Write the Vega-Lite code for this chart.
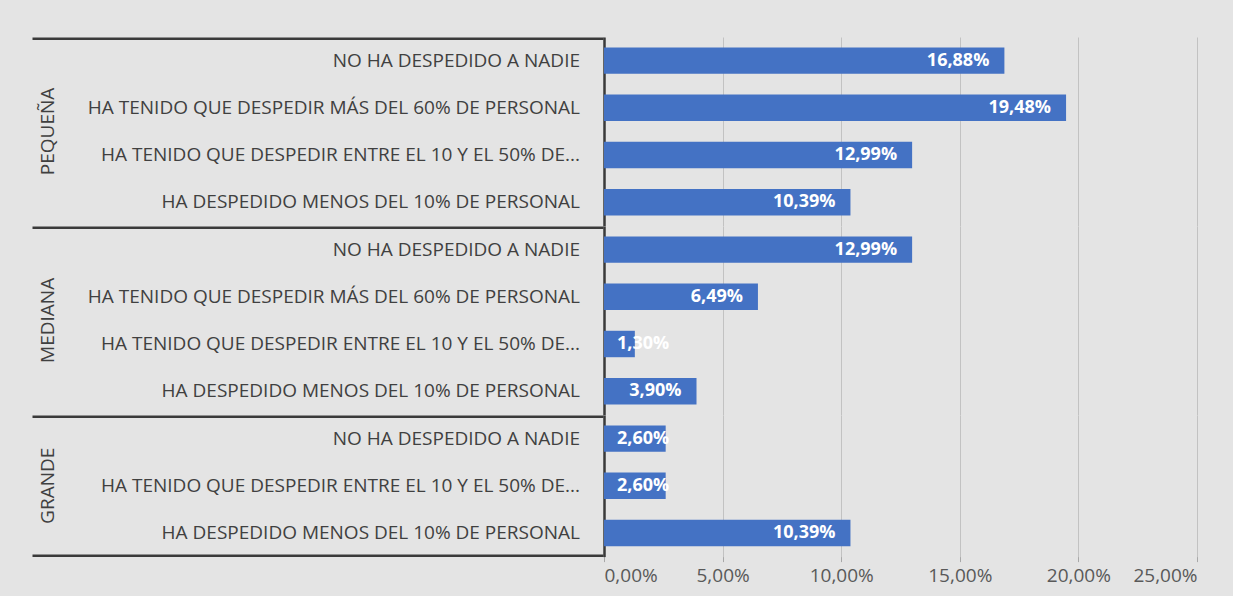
{
  "$schema": "https://vega.github.io/schema/vega-lite/v6.json",
  "background": "#e4e4e4",
  "padding": {"left": 10, "top": 37, "right": 35, "bottom": 10},
  "config": {
    "view": {"stroke": null},
    "font": "Open Sans",
    "locale": {"number": {"decimal": ",", "thousands": ".", "grouping": [3], "currency": ["", " €"]}},
    "concat": {"spacing": 0},
    "axisX": {"gridColor": "#c2c2c2", "gridWidth": 1, "tickColor": "#a8a8a8", "labelFontSize": 19, "labelColor": "#595959"}
  },
  "data": {
    "values": [
      {"grp": "PEQUEÑA", "item": "NO HA DESPEDIDO A NADIE", "v": 0.1688},
      {"grp": "PEQUEÑA", "item": "HA TENIDO QUE DESPEDIR MÁS DEL 60% DE PERSONAL", "v": 0.1948},
      {"grp": "PEQUEÑA", "item": "HA TENIDO QUE DESPEDIR ENTRE EL 10 Y EL 50% DE...", "v": 0.1299},
      {"grp": "PEQUEÑA", "item": "HA DESPEDIDO MENOS DEL 10% DE PERSONAL", "v": 0.1039},
      {"grp": "MEDIANA", "item": "NO HA DESPEDIDO A NADIE", "v": 0.1299},
      {"grp": "MEDIANA", "item": "HA TENIDO QUE DESPEDIR MÁS DEL 60% DE PERSONAL", "v": 0.0649},
      {"grp": "MEDIANA", "item": "HA TENIDO QUE DESPEDIR ENTRE EL 10 Y EL 50% DE...", "v": 0.013},
      {"grp": "MEDIANA", "item": "HA DESPEDIDO MENOS DEL 10% DE PERSONAL", "v": 0.039},
      {"grp": "GRANDE", "item": "NO HA DESPEDIDO A NADIE", "v": 0.026},
      {"grp": "GRANDE", "item": "HA TENIDO QUE DESPEDIR ENTRE EL 10 Y EL 50% DE...", "v": 0.026},
      {"grp": "GRANDE", "item": "HA DESPEDIDO MENOS DEL 10% DE PERSONAL", "v": 0.1039}
    ]
  },
  "spacing": 0,
  "hconcat": [
    {
      "spacing": 0,
      "vconcat": [
        {
          "width": 593, "height": {"step": 47.2},
          "transform": [{"filter": "datum.grp === 'PEQUEÑA'"}],
          "layer": [
            {
              "mark": {"type": "text", "align": "right", "baseline": "middle", "dx": -23, "fontSize": 19, "color": "#404040"},
              "encoding": {
                "y": {"field": "item", "type": "nominal", "sort": null, "axis": null, "scale": {"type": "band", "paddingInner": 0.44, "paddingOuter": 0.22}},
                "x": {"datum": 1, "type": "quantitative", "scale": {"domain": [0, 1], "range": [22, 593], "nice": false}, "axis": {"orient": "top", "offset": -1.25, "domain": true, "domainColor": "#3a3a3a", "domainWidth": 2.5, "labels": false, "ticks": false, "grid": false, "title": null}},
                "text": {"field": "item"}
              }
            },
            {
              "transform": [{"aggregate": [{"op": "count", "as": "n"}], "groupby": ["grp"]}],
              "mark": {"type": "text", "angle": 270, "align": "center", "baseline": "middle", "dy": 16, "fontSize": 19, "color": "#404040"},
              "encoding": {
                "x": {"datum": 0, "type": "quantitative"},
                "text": {"field": "grp"}
              }
            }
          ]
        },
        {
          "width": 593, "height": {"step": 47.2},
          "transform": [{"filter": "datum.grp === 'MEDIANA'"}],
          "layer": [
            {
              "mark": {"type": "text", "align": "right", "baseline": "middle", "dx": -23, "fontSize": 19, "color": "#404040"},
              "encoding": {
                "y": {"field": "item", "type": "nominal", "sort": null, "axis": null, "scale": {"type": "band", "paddingInner": 0.44, "paddingOuter": 0.22}},
                "x": {"datum": 1, "type": "quantitative", "scale": {"domain": [0, 1], "range": [22, 593], "nice": false}, "axis": {"orient": "top", "offset": -1.25, "domain": true, "domainColor": "#3a3a3a", "domainWidth": 2.5, "labels": false, "ticks": false, "grid": false, "title": null}},
                "text": {"field": "item"}
              }
            },
            {
              "transform": [{"aggregate": [{"op": "count", "as": "n"}], "groupby": ["grp"]}],
              "mark": {"type": "text", "angle": 270, "align": "center", "baseline": "middle", "dy": 16, "fontSize": 19, "color": "#404040"},
              "encoding": {
                "x": {"datum": 0, "type": "quantitative"},
                "text": {"field": "grp"}
              }
            }
          ]
        },
        {
          "width": 593, "height": {"step": 47.2},
          "transform": [{"filter": "datum.grp === 'GRANDE'"}],
          "layer": [
            {
              "mark": {"type": "text", "align": "right", "baseline": "middle", "dx": -23, "fontSize": 19, "color": "#404040"},
              "encoding": {
                "y": {"field": "item", "type": "nominal", "sort": null, "axis": null, "scale": {"type": "band", "paddingInner": 0.44, "paddingOuter": 0.22}},
                "x": {"datum": 1, "type": "quantitative", "scale": {"domain": [0, 1], "range": [22, 593], "nice": false}, "axis": {"orient": "top", "offset": -1.25, "domain": true, "domainColor": "#3a3a3a", "domainWidth": 2.5, "labels": false, "ticks": false, "grid": false, "title": null}},
                "text": {"field": "item"}
              }
            },
            {
              "transform": [{"aggregate": [{"op": "count", "as": "n"}], "groupby": ["grp"]}],
              "mark": {"type": "text", "angle": 270, "align": "center", "baseline": "middle", "dy": 16, "fontSize": 19, "color": "#404040"},
              "encoding": {
                "x": {"datum": 0, "type": "quantitative", "axis": {"orient": "bottom", "offset": -1.25, "domain": true, "domainColor": "#3a3a3a", "domainWidth": 2.5, "labels": false, "ticks": false, "grid": false, "title": null}},
                "text": {"field": "grp"}
              }
            }
          ],
          "resolve": {"axis": {"x": "independent"}}
        }
      ]
    },
    {
      "spacing": 0,
      "vconcat": [
        {
          "width": 593, "height": {"step": 47.2},
          "transform": [{"filter": "datum.grp === 'PEQUEÑA'"}],
          "encoding": {
            "y": {"field": "item", "type": "nominal", "sort": null, "scale": {"paddingInner": 0.44, "paddingOuter": 0.22}, "axis": {"labels": false, "ticks": false, "domain": true, "domainColor": "#3a3a3a", "domainWidth": 2.5, "title": null}}
          },
          "layer": [
            {
              "mark": {"type": "bar", "color": "#4472C4"},
              "encoding": {
                "x": {"field": "v", "type": "quantitative", "scale": {"domain": [0, 0.25], "nice": false}, "axis": {"values": [0, 0.05, 0.1, 0.15, 0.2, 0.25], "grid": true, "domain": false, "ticks": false, "labels": false, "title": null}}
              }
            },
            {
              "transform": [{"filter": "datum.v >= 0.035"}],
              "mark": {"type": "text", "align": "right", "baseline": "middle", "dx": -15, "color": "white", "fontWeight": "bold", "fontSize": 18},
              "encoding": {"x": {"field": "v", "type": "quantitative"}, "text": {"field": "v", "type": "quantitative", "format": ".2%"}}
            },
            {
              "transform": [{"filter": "datum.v < 0.035"}],
              "mark": {"type": "text", "align": "left", "baseline": "middle", "dx": 13, "color": "white", "fontWeight": "bold", "fontSize": 18},
              "encoding": {"x": {"datum": 0, "type": "quantitative"}, "text": {"field": "v", "type": "quantitative", "format": ".2%"}}
            }
          ]
        },
        {
          "width": 593, "height": {"step": 47.2},
          "transform": [{"filter": "datum.grp === 'MEDIANA'"}],
          "encoding": {
            "y": {"field": "item", "type": "nominal", "sort": null, "scale": {"paddingInner": 0.44, "paddingOuter": 0.22}, "axis": {"labels": false, "ticks": false, "domain": true, "domainColor": "#3a3a3a", "domainWidth": 2.5, "title": null}}
          },
          "layer": [
            {
              "mark": {"type": "bar", "color": "#4472C4"},
              "encoding": {
                "x": {"field": "v", "type": "quantitative", "scale": {"domain": [0, 0.25], "nice": false}, "axis": {"values": [0, 0.05, 0.1, 0.15, 0.2, 0.25], "grid": true, "domain": false, "ticks": false, "labels": false, "title": null}}
              }
            },
            {
              "transform": [{"filter": "datum.v >= 0.035"}],
              "mark": {"type": "text", "align": "right", "baseline": "middle", "dx": -15, "color": "white", "fontWeight": "bold", "fontSize": 18},
              "encoding": {"x": {"field": "v", "type": "quantitative"}, "text": {"field": "v", "type": "quantitative", "format": ".2%"}}
            },
            {
              "transform": [{"filter": "datum.v < 0.035"}],
              "mark": {"type": "text", "align": "left", "baseline": "middle", "dx": 13, "color": "white", "fontWeight": "bold", "fontSize": 18},
              "encoding": {"x": {"datum": 0, "type": "quantitative"}, "text": {"field": "v", "type": "quantitative", "format": ".2%"}}
            }
          ]
        },
        {
          "width": 593, "height": {"step": 47.2},
          "transform": [{"filter": "datum.grp === 'GRANDE'"}],
          "encoding": {
            "y": {"field": "item", "type": "nominal", "sort": null, "scale": {"paddingInner": 0.44, "paddingOuter": 0.22}, "axis": {"labels": false, "ticks": false, "domain": true, "domainColor": "#3a3a3a", "domainWidth": 2.5, "title": null}}
          },
          "layer": [
            {
              "mark": {"type": "bar", "color": "#4472C4"},
              "encoding": {
                "x": {"field": "v", "type": "quantitative", "scale": {"domain": [0, 0.25], "nice": false}, "axis": {"values": [0, 0.05, 0.1, 0.15, 0.2, 0.25], "format": ".2%", "grid": true, "domain": false, "ticks": true, "tickSize": 5, "labelPadding": 5, "title": null}}
              }
            },
            {
              "transform": [{"filter": "datum.v >= 0.035"}],
              "mark": {"type": "text", "align": "right", "baseline": "middle", "dx": -15, "color": "white", "fontWeight": "bold", "fontSize": 18},
              "encoding": {"x": {"field": "v", "type": "quantitative"}, "text": {"field": "v", "type": "quantitative", "format": ".2%"}}
            },
            {
              "transform": [{"filter": "datum.v < 0.035"}],
              "mark": {"type": "text", "align": "left", "baseline": "middle", "dx": 13, "color": "white", "fontWeight": "bold", "fontSize": 18},
              "encoding": {"x": {"datum": 0, "type": "quantitative"}, "text": {"field": "v", "type": "quantitative", "format": ".2%"}}
            }
          ]
        }
      ]
    }
  ]
}
